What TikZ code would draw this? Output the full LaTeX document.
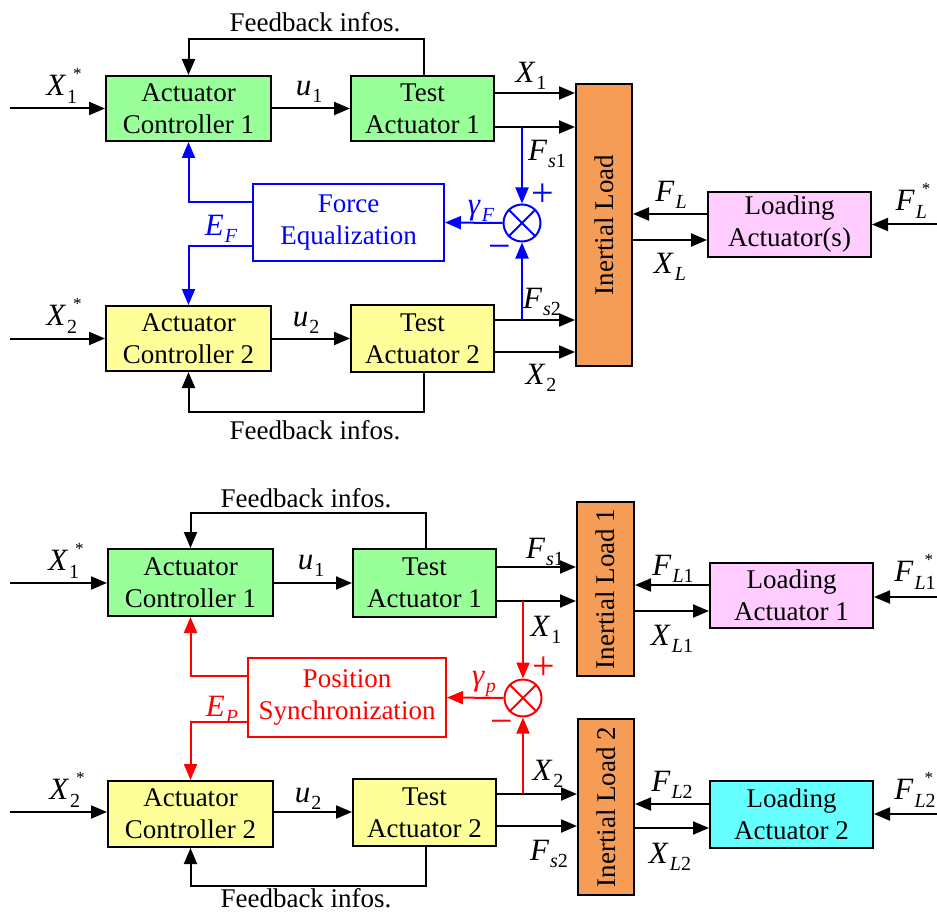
\documentclass[tikz,border=0pt]{standalone}
\usepackage{fontspec}
\setmainfont{Liberation Serif}
\usetikzlibrary{arrows.meta,calc}
\definecolor{ctrlGreen}{HTML}{99FF99}
\definecolor{ctrlYellow}{HTML}{FFFF99}
\definecolor{loadPink}{HTML}{FFCCFF}
\definecolor{loadCyan}{HTML}{66FFFF}
\definecolor{loadOrange}{HTML}{F59D56}
\definecolor{eqBlue}{HTML}{0000FF}
\definecolor{syncRed}{HTML}{FF0000}
% signal name with subscript, and with subscript plus star above it
\newcommand{\sig}[2]{\textit{#1}\kern1pt\raisebox{-7pt}{\fontsize{20}{20}\selectfont #2}}
\newcommand{\sigS}[3][6pt]{\textit{#2}\kern1pt\begingroup\fontsize{20}{20}\selectfont
  \setbox0\hbox{\raisebox{-8pt}{#3}}\setbox2\hbox{\kern#1\raisebox{16pt}{\fontsize{17}{17}\selectfont *}}%
  \ifdim\wd0>\wd2 \rlap{\box2}\box0 \else\rlap{\box0}\box2 \fi\endgroup}
\tikzset{
  blk/.style={draw,line width=2pt,align=center,inner sep=0pt,font=\fontsize{27}{32}\selectfont},
  arr/.style={-{Triangle[length=16pt,width=13pt]}},
  lbl/.style={inner sep=0pt,font=\fontsize{31}{31}\selectfont},
  txt/.style={inner sep=0pt,font=\fontsize{27}{32}\selectfont},
  sgn/.style={inner sep=0pt,font=\fontsize{40}{40}\selectfont},
  sumNode/.style={draw,circle,minimum size=37pt,inner sep=0pt,line width=2pt}
}
\begin{document}
\begin{tikzpicture}[x=1pt,y=-1pt,line width=2pt]
\useasboundingbox (0,0) rectangle (937,912);
% ---------- force equalization ----------
\node[blk,fill=ctrlGreen,minimum width=165pt,minimum height=65pt] (ctrlA) at (188.5,108.5) {Actuator\\Controller 1};
\node[blk,fill=ctrlGreen,minimum width=143pt,minimum height=65pt] (testA) at (422.5,108.5) {Test\\Actuator 1};
\node[blk,fill=ctrlYellow,minimum width=165pt,minimum height=65pt] (ctrlB) at (188.5,338.5) {Actuator\\Controller 2};
\node[blk,fill=ctrlYellow,minimum width=143pt,minimum height=67pt] (testB) at (422.5,338.5) {Test\\Actuator 2};
\node[blk,fill=loadOrange,minimum width=56pt,minimum height=282pt] (load) at (604,225) {};
\node[txt,rotate=90] (loadTxt) at (load.center) {Inertial Load};
\node[blk,fill=loadPink,minimum width=163pt,minimum height=65pt] (loadAct) at (789.5,224.5) {Loading\\Actuator(s)};
\node[blk,draw=eqBlue,text=eqBlue,fill=white,minimum width=191pt,minimum height=77pt] (feq) at (348.5,222.5) {Force\\Equalization};
\node[sumNode,draw=eqBlue] (sumF) at (522,223) {};
\draw[eqBlue] (sumF.north west) -- (sumF.south east) (sumF.north east) -- (sumF.south west);

\node[lbl] (xa) at (64,86) {\sigS{X}{1}};
\node[lbl] (xb) at (64,316) {\sigS{X}{2}};
\node[lbl] (ua) at (309,92) {\sig{u}{1}};
\node[lbl] (ub) at (306,323) {\sig{u}{2}};
\node[lbl] (xoa) at (531,76) {\sig{X}{1}};
\node[lbl] (fsa) at (547,154) {\sig{F}{{\itshape s}1}};
\node[lbl] (fsb) at (542,302) {\sig{F}{{\itshape s}2}};
\node[lbl] (xob) at (541,378) {\sig{X}{2}};
\node[lbl] (fl) at (671,195) {\sig{F}{\itshape L}};
\node[lbl] (xl) at (670,267) {\sig{X}{\itshape L}};
\node[lbl] (fls) at (913,201) {\sigS{F}{\itshape L}};
\node[lbl,text=eqBlue] (gf) at (481,211) {\sig{γ}{\itshape F}};
\node[lbl,text=eqBlue] (ef) at (221,229) {\sig{E}{\itshape F}};
\node[sgn,text=eqBlue] (pa) at (543,195) {+};
\node[sgn,text=eqBlue] (ma) at (500,252) {−};
\node[txt] (fbA) at (315,22) {Feedback infos.};
\node[txt] (fbB) at (315,430) {Feedback infos.};

\draw[arr] (10,108.5) -- (ctrlA.west);
\draw[arr] (ctrlA.east) -- (testA.west);
\draw[arr] ([xshift=1.5pt]testA.north) -- ++(0,-36) -| (ctrlA.north);
\draw[arr] (testA.east |- 0,93) -- (load.west |- 0,93);
\draw[arr] (testA.east |- 0,127) -- (load.west |- 0,127);
\draw[arr] (10,338.5) -- (ctrlB.west);
\draw[arr] (ctrlB.east) -- (testB.west);
\draw[arr] ([xshift=1.5pt]testB.south) -- ++(0,39) -| (ctrlB.south);
\draw[arr] (testB.east |- 0,320) -- (load.west |- 0,320);
\draw[arr] (testB.east |- 0,352) -- (load.west |- 0,352);
\draw[arr] (loadAct.west |- 0,214) -- (load.east |- 0,214);
\draw[arr] (load.east |- 0,240) -- (loadAct.west |- 0,240);
\draw[arr] (937,224.5) -- (loadAct.east);
\draw[arr,eqBlue] (sumF.north |- 0,127) -- (sumF.north);
\draw[arr,eqBlue] (sumF.south |- 0,320) -- (sumF.south);
\draw[arr,eqBlue] (sumF.west) -- (feq.east);
\draw[arr,eqBlue] (feq.west |- 0,202) -| (ctrlA.south);
\draw[arr,eqBlue] (feq.west |- 0,246) -| (ctrlB.north);

% ---------- position synchronization ----------
\node[blk,fill=ctrlGreen,minimum width=165pt,minimum height=67pt] (ctrlC) at (190.5,582.5) {Actuator\\Controller 1};
\node[blk,fill=ctrlGreen,minimum width=143pt,minimum height=68pt] (testC) at (424.5,583) {Test\\Actuator 1};
\node[blk,fill=ctrlYellow,minimum width=165pt,minimum height=66pt] (ctrlD) at (190.5,814) {Actuator\\Controller 2};
\node[blk,fill=ctrlYellow,minimum width=143pt,minimum height=67pt] (testD) at (424.5,812.5) {Test\\Actuator 2};
\node[blk,fill=loadOrange,minimum width=57pt,minimum height=174pt] (loadC) at (605.5,589) {};
\node[txt,rotate=90] (loadCTxt) at (loadC.center) {Inertial Load 1};
\node[blk,fill=loadOrange,minimum width=56pt,minimum height=176pt] (loadD) at (606,807) {};
\node[txt,rotate=90] (loadDTxt) at (loadD.center) {Inertial Load 2};
\node[blk,fill=loadPink,minimum width=163pt,minimum height=65pt] (loadActC) at (791.5,595.5) {Loading\\Actuator 1};
\node[blk,fill=loadCyan,minimum width=163pt,minimum height=67pt] (loadActD) at (791.5,814.5) {Loading\\Actuator 2};
\node[blk,draw=syncRed,text=syncRed,fill=white,minimum width=198pt,minimum height=79pt] (psync) at (347,697.5) {Position\\Synchronization};
\node[sumNode,draw=syncRed] (sumP) at (523,698) {};
\draw[syncRed] (sumP.north west) -- (sumP.south east) (sumP.north east) -- (sumP.south west);

\node[lbl] (xc) at (66,561) {\sigS{X}{1}};
\node[lbl] (xd) at (67,790) {\sigS{X}{2}};
\node[lbl] (uc) at (311,566) {\sig{u}{1}};
\node[lbl] (ud) at (308,799) {\sig{u}{2}};
\node[lbl] (fsc) at (545,552) {\sig{F}{{\itshape s}1}};
\node[lbl] (xoc) at (546,630) {\sig{X}{1}};
\node[lbl] (xod) at (548,774) {\sig{X}{2}};
\node[lbl] (fsd) at (549,854) {\sig{F}{{\itshape s}2}};
\node[lbl] (flc) at (673,569) {\sig{F}{{\itshape L}1}};
\node[lbl] (xlc) at (672,639) {\sig{X}{{\itshape L}1}};
\node[lbl] (fld) at (672,785) {\sig{F}{{\itshape L}2}};
\node[lbl] (xld) at (670,857) {\sig{X}{{\itshape L}2}};
\node[lbl] (flcs) at (915,572) {\sigS[10pt]{F}{{\itshape L}1}};
\node[lbl] (flds) at (915,790) {\sigS[10pt]{F}{{\itshape L}2}};
\node[lbl,text=syncRed] (gp) at (484,684) {\sig{γ}{\itshape p}};
\node[lbl,text=syncRed] (ep) at (222,710) {\sig{E}{\itshape P}};
\node[sgn,text=syncRed] (pc) at (544,668) {+};
\node[sgn,text=syncRed] (mc) at (502,727) {−};
\node[txt] (fbC) at (306,498) {Feedback infos.};
\node[txt] (fbD) at (306,898) {Feedback infos.};

\draw[arr] (10,583) -- (ctrlC.west |- 0,583);
\draw[arr] (ctrlC.east |- 0,583) -- (testC.west |- 0,583);
\draw[arr] ([xshift=1.5pt]testC.north) -- ++(0,-35) -| (ctrlC.north);
\draw[arr] (testC.east |- 0,567) -- (loadC.west |- 0,567);
\draw[arr] (testC.east |- 0,601) -- (loadC.west |- 0,601);
\draw[arr] (10,812) -- (ctrlD.west |- 0,812);
\draw[arr] (ctrlD.east |- 0,812) -- (testD.west |- 0,812);
\draw[arr] ([xshift=1.5pt]testD.south) -- ++(0,39) -| (ctrlD.south);
\draw[arr] (testD.east |- 0,794) -- (loadD.west |- 0,794);
\draw[arr] (testD.east |- 0,826) -- (loadD.west |- 0,826);
\draw[arr] (loadActC.west |- 0,585) -- (loadC.east |- 0,585);
\draw[arr] (loadC.east |- 0,611) -- (loadActC.west |- 0,611);
\draw[arr] (937,597) -- (loadActC.east |- 0,597);
\draw[arr] (loadActD.west |- 0,804) -- (loadD.east |- 0,804);
\draw[arr] (loadD.east |- 0,828) -- (loadActD.west |- 0,828);
\draw[arr] (937,814) -- (loadActD.east |- 0,814);
\draw[arr,syncRed] (sumP.north |- 0,601) -- (sumP.north);
\draw[arr,syncRed] (sumP.south |- 0,794) -- (sumP.south);
\draw[arr,syncRed] (sumP.west) -- (psync.east);
\draw[arr,syncRed] (psync.west |- 0,676) -| (ctrlC.south);
\draw[arr,syncRed] (psync.west |- 0,722) -| (ctrlD.north);
\end{tikzpicture}
\end{document}
